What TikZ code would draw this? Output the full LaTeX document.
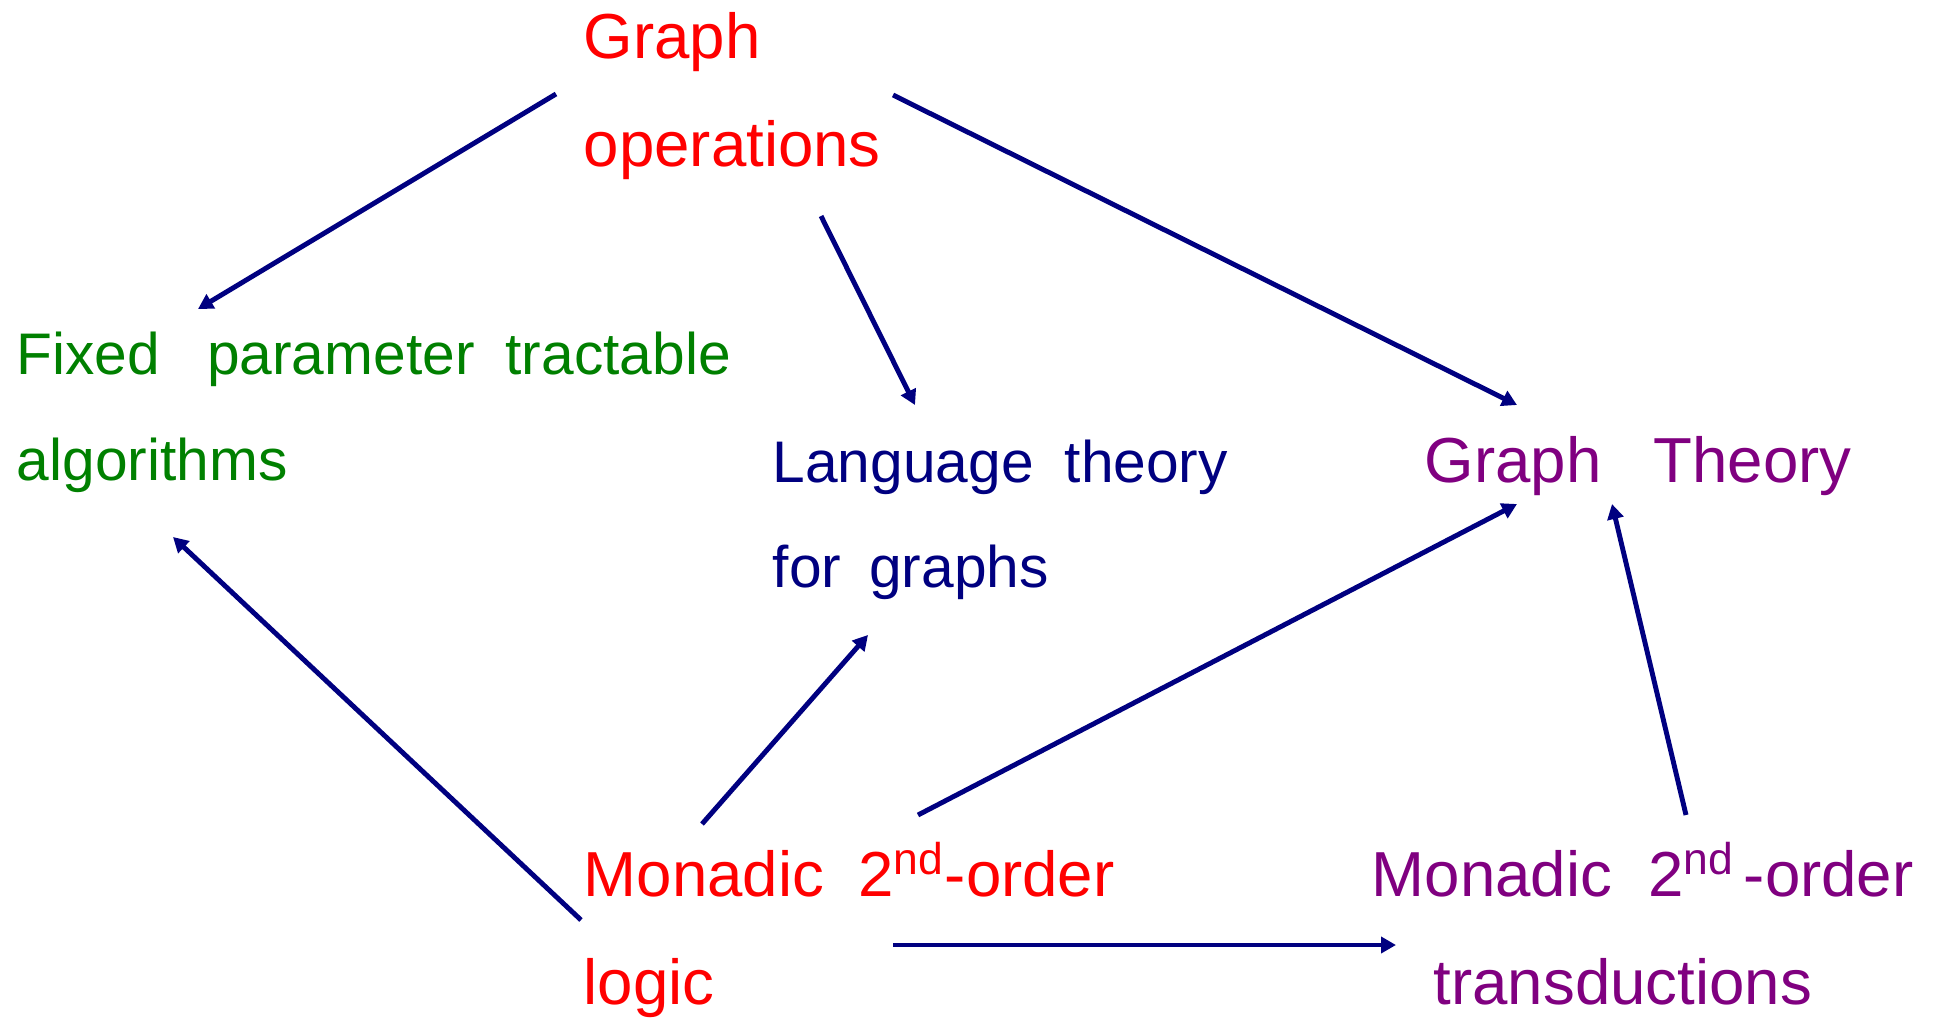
\documentclass[tikz,border=0pt]{standalone}
\usepackage{fontspec}
\setmainfont{Liberation Sans}
\usetikzlibrary{arrows.meta}
\definecolor{opred}{RGB}{255,0,0}
\definecolor{algreen}{RGB}{0,128,0}
\definecolor{navy}{RGB}{0,0,128}
\definecolor{thpurple}{RGB}{128,0,128}
\tikzset{
  topic/.style={anchor=base west, inner sep=0pt, align=left},
  big/.style={font=\fontsize{18.1}{30.6}\selectfont},
  small/.style={font=\fontsize{16.7}{30.2}\selectfont},
  line/.style={-{Triangle[length=1.5mm,width=1.6mm]}, line width=1.4pt, draw=navy}
}

\begin{document}
\begin{tikzpicture}
  \useasboundingbox (0,0) rectangle (19.37,-10.19);
  % multi-line nodes are placed by the baseline of their last line
  \node[topic, big, text=opred] (gop) at (5.83,-1.66) {Graph\\operations};
  \node[topic, small, text=algreen] (fpt) at (0.16,-4.805)
    {Fixed\hspace{0.47cm}parameter\hspace{0.31cm}tractable\\algorithms};
  \node[topic, small, text=navy, font=\fontsize{16.7}{29.8}\selectfont] (lang) at (7.72,-5.871)
    {Language\hspace{0.31cm}theory\\for\hspace{0.28cm}graphs};
  \node[topic, big, text=thpurple] (gth) at (14.24,-4.82) {Graph\hspace{0.52cm}Theory};
  \node[topic, big, text=opred] (mso) at (5.83,-10.04)
    {Monadic\hspace{0.34cm}2\textsuperscript{nd}-order\\logic};
  \node[topic, big, text=thpurple] (msot) at (13.71,-10.04)
    {Monadic\hspace{0.36cm}2\textsuperscript{nd}\hspace{0.09cm}-order\\\hspace*{0.62cm}transductions};

  \draw[line] ([shift={(-0.27,0.72)}]gop.base west) -- ([shift={(1.82,1.715)}]fpt.base west);
  \draw[line] ([shift={(2.38,-0.50)}]gop.base west) -- ([shift={(1.43,1.821)}]lang.base west);
  \draw[line] ([shift={(3.10,0.71)}]gop.base west) -- ([shift={(0.93,0.77)}]gth.base west);
  \draw[line] ([shift={(-0.02,0.84)}]mso.base west) -- ([shift={(1.57,-0.565)}]fpt.base west);
  \draw[line] ([shift={(1.19,1.80)}]mso.base west) -- ([shift={(0.96,-0.479)}]lang.base west);
  \draw[line] ([shift={(3.35,1.89)}]mso.base west) -- ([shift={(0.93,-0.22)}]gth.base west);
  \draw[line] ([shift={(3.15,1.89)}]msot.base west) -- ([shift={(1.88,-0.22)}]gth.base west);
  \draw[line] ([shift={(3.10,0.59)}]mso.base west) -- ([shift={(0.25,0.59)}]msot.base west);
\end{tikzpicture}
\end{document}
